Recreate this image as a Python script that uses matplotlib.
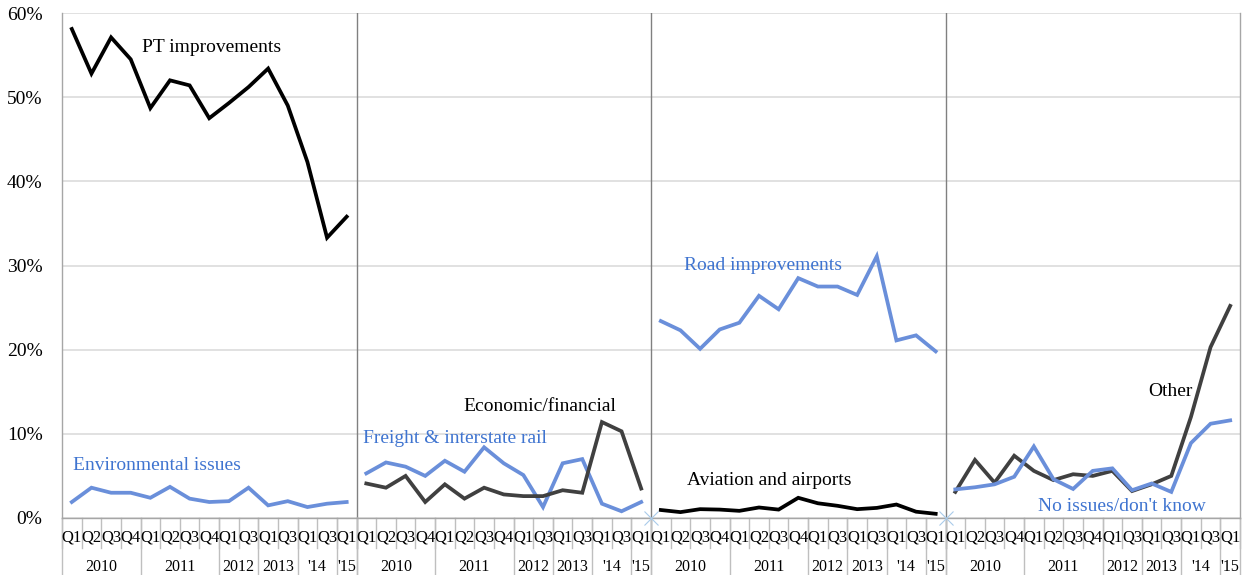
import numpy as np
import matplotlib
matplotlib.use("Agg")
import matplotlib.pyplot as plt
import matplotlib.transforms as mtransforms
from matplotlib.ticker import FuncFormatter

# ---- data (percent) --------------------------------------------------------
quarters = ["Q1", "Q2", "Q3", "Q4", "Q1", "Q2", "Q3", "Q4",
            "Q1", "Q3", "Q1", "Q3", "Q1", "Q3", "Q1"]
years = ["2010", "2011", "2012", "2013", "'14", "'15"]
year_sizes = [4, 4, 2, 2, 2, 1]

pt_improvements = [58.1, 52.8, 57.1, 54.5, 48.7, 52.0, 51.4, 47.5,
                   49.3, 51.2, 53.4, 49.0, 42.3, 33.3, 35.8]
environmental = [1.9, 3.6, 3.0, 3.0, 2.4, 3.7, 2.3, 1.9,
                 2.0, 3.6, 1.5, 2.0, 1.3, 1.7, 1.9]
freight_rail = [5.3, 6.6, 6.1, 5.0, 6.8, 5.5, 8.4, 6.5,
                5.1, 1.3, 6.5, 7.0, 1.7, 0.8, 1.9]
economic = [4.1, 3.6, 5.0, 1.9, 4.0, 2.3, 3.6, 2.8,
            2.6, 2.6, 3.3, 3.0, 11.4, 10.3, 3.5]
road_improvements = [23.4, 22.3, 20.1, 22.4, 23.2, 26.4, 24.8, 28.5,
                     27.5, 27.5, 26.5, 31.1, 21.1, 21.7, 19.8]
aviation = [0.95, 0.7, 1.05, 1.0, 0.85, 1.25, 1.0, 2.4,
            1.75, 1.45, 1.05, 1.2, 1.6, 0.75, 0.5]
other = [3.1, 6.9, 4.2, 7.4, 5.6, 4.5, 5.2, 5.0,
         5.6, 3.2, 4.0, 5.0, 12.0, 20.3, 25.2]
no_issues = [3.4, 3.65, 4.0, 4.9, 8.5, 4.6, 3.45, 5.6,
             5.9, 3.3, 4.1, 3.1, 8.9, 11.2, 11.6]

BLACK = "#000000"
DARK = "#404040"
BLUE = "#6A8FDA"
BLUE_TXT = "#3F74D0"

# panel index, values, line colour, label, label pos (x in category units, y %), text colour
series = [
    (0, pt_improvements, BLACK, "PT improvements", 3.58, 55.85, BLACK),
    (0, environmental, BLUE, "Environmental issues", 0.05, 6.25, BLUE_TXT),
    (1, freight_rail, BLUE, "Freight & interstate rail", 14.85, 9.4, BLUE_TXT),
    (1, economic, DARK, "Economic/financial", 19.95, 13.2, BLACK),
    (2, road_improvements, BLUE, "Road improvements", 31.2, 30.0, BLUE_TXT),
    (2, aviation, BLACK, "Aviation and airports", 31.35, 4.4, BLACK),
    (3, other, DARK, "Other", 54.83, 15.0, BLACK),
    (3, no_issues, BLUE, "No issues/don't know", 49.2, 1.4, BLUE_TXT),
]

n = len(quarters)
n_panels = 4

fig = plt.figure(figsize=(12.49, 5.75), dpi=100)
ax = fig.add_axes([62 / 1249, 57 / 575, 1178 / 1249, 505 / 575])

for p, vals, col, lab, tx, ty, tcol in series:
    x = np.arange(n) + p * n
    ax.plot(x, vals, color=col, lw=2.7, solid_joinstyle="miter", zorder=3)
    ax.text(tx, ty, lab, color=tcol, fontsize=14, family="Liberation Serif",
            ha="left", va="center", zorder=4)

ax.set_xlim(-0.5, n * n_panels - 0.5)
ax.set_ylim(0, 60)
ax.set_yticks(np.arange(0, 61, 10))
ax.yaxis.set_major_formatter(FuncFormatter(lambda v, _: f"{v:.0f}%"))
ax.tick_params(axis="y", length=0, pad=14, labelsize=14)
for lbl in ax.get_yticklabels():
    lbl.set_family("Liberation Serif")
ax.grid(axis="y", color="#D9D9D9", lw=1.1, zorder=0)
ax.set_xticks([])

ax.spines["top"].set_visible(False)
for s in ["left", "right", "bottom"]:
    ax.spines[s].set_color("#A6A6A6")
    ax.spines[s].set_linewidth(1.0)

# panel separators
for p in range(1, n_panels):
    ax.axvline(p * n - 0.5, color="#808080", lw=1.0, zorder=2)
    if p >= 2:
        ax.plot([p * n - 0.5], [0], marker="x", ms=10, mew=0.8,
                color="#A9CBEA", clip_on=False, zorder=5)

# multi-level category axis
trans = mtransforms.blended_transform_factory(ax.transData, ax.transAxes)
y_q = -19 / 505
y_yr = -49 / 505
y_short = -30 / 505
y_long = -57 / 505
for p in range(n_panels):
    base = p * n
    for i, q in enumerate(quarters):
        ax.text(base + i, y_q, q, transform=trans, ha="center", va="center",
                fontsize=12, family="Liberation Serif", clip_on=False)
    # short ticks between each quarter
    for i in range(n + 1):
        ax.plot([base + i - 0.5] * 2, [0, y_short], transform=trans,
                color="#BFBFBF", lw=1.0, clip_on=False)
    # year labels and long group ticks
    start = 0
    for yr, sz in zip(years, year_sizes):
        ax.text(base + start + (sz - 1) / 2, y_yr, yr, transform=trans,
                ha="center", va="center", fontsize=11.5,
                family="Liberation Serif", clip_on=False)
        ax.plot([base + start - 0.5] * 2, [0, y_long], transform=trans,
                color="#BFBFBF", lw=1.0, clip_on=False)
        start += sz
    ax.plot([base + n - 0.5] * 2, [0, y_long], transform=trans,
            color="#BFBFBF", lw=1.0, clip_on=False)

fig.savefig("out.png", dpi=100)
